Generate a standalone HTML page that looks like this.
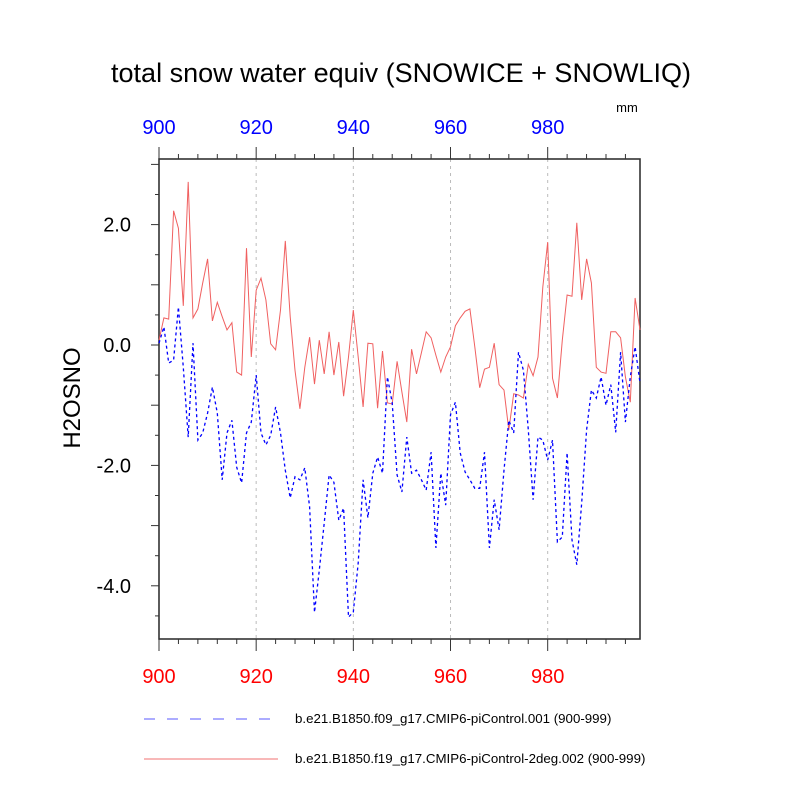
<!DOCTYPE html>
<html><head><meta charset="utf-8"><style>
body{margin:0;background:#fff}
svg{display:block;font-family:"Liberation Sans",sans-serif}
</style></head><body>
<svg id="chart" width="800" height="800" xmlns="http://www.w3.org/2000/svg">
<text x="401" y="82" font-size="27" text-anchor="middle">total snow water equiv (SNOWICE + SNOWLIQ)</text>
<text x="627" y="112" font-size="13" text-anchor="middle">mm</text>
<text transform="translate(80,398) rotate(-90)" font-size="24" text-anchor="middle">H2OSNO</text>
<g id="grid"></g><g id="axes"></g><g id="series"></g>
<g>
<line x1="144" y1="719" x2="276" y2="719" stroke="#5a5aff" stroke-width="1" stroke-dasharray="11,12"/>
<text x="295" y="723" font-size="13.3">b.e21.B1850.f09_g17.CMIP6-piControl.001 (900-999)</text>
<line x1="144" y1="759" x2="278" y2="759" stroke="#f07070" stroke-width="1"/>
<text x="295" y="763" font-size="13.3">b.e21.B1850.f19_g17.CMIP6-piControl-2deg.002 (900-999)</text>
</g>
</svg>
<script>
const years = Array.from({length:100},(_, i)=>900+i);
const redValues = [0.08,0.45,0.43,2.23,1.94,0.65,2.71,0.45,0.60,1.03,1.43,0.40,0.71,0.47,0.25,0.37,-0.45,-0.50,1.61,-0.20,0.91,1.11,0.75,0.02,-0.08,0.58,1.73,0.47,-0.42,-1.06,-0.37,0.13,-0.65,0.08,-0.48,0.22,-0.50,0.05,-0.85,-0.20,0.58,-0.20,-1.03,0.03,0.02,-1.05,-0.10,-0.96,-0.98,-0.27,-0.78,-1.28,-0.07,-0.48,-0.13,0.22,0.12,-0.17,-0.45,-0.20,-0.03,0.32,0.45,0.56,0.60,-0.03,-0.71,-0.40,-0.37,0.03,-0.66,-0.75,-1.41,-0.81,-0.83,-0.88,-0.32,-0.51,-0.20,0.96,1.71,-0.55,-0.88,0.08,0.83,0.81,2.03,0.75,1.43,1.03,-0.37,-0.45,-0.47,0.22,0.22,0.12,-0.53,-0.95,0.78,0.25];
const blueValues = [0.03,0.30,-0.30,-0.25,0.63,-0.37,-1.53,0.03,-1.58,-1.46,-1.13,-0.70,-1.13,-2.24,-1.46,-1.25,-2.03,-2.29,-1.46,-1.28,-0.50,-1.46,-1.66,-1.50,-1.03,-1.46,-2.08,-2.54,-2.19,-2.24,-2.04,-2.69,-4.44,-3.74,-2.96,-2.16,-2.28,-2.91,-2.71,-4.52,-4.44,-3.62,-2.24,-2.87,-2.13,-1.86,-2.13,-0.53,-0.96,-2.16,-2.44,-1.53,-2.13,-2.08,-2.24,-2.41,-1.78,-3.37,-2.13,-2.66,-1.16,-0.95,-1.79,-2.11,-2.24,-2.38,-2.38,-1.78,-3.37,-2.57,-3.07,-2.08,-1.25,-1.46,-0.12,-0.42,-1.41,-2.57,-1.53,-1.58,-1.91,-1.58,-3.27,-3.19,-1.79,-3.24,-3.65,-2.62,-1.41,-0.75,-0.88,-0.53,-1.00,-0.66,-1.45,-0.12,-1.28,-0.53,-0.03,-0.63];
const xTicks = [900,920,940,960,980];
const xTickLabels = ["900","920","940","960","980"];
const yTicks = [2,0,-2,-4];
const yTickLabels = ["2.0","0.0","-2.0","-4.0"];

const L=159,R=640,T=159,B=639;
const xS=v=>L+(v-900)*(R-L)/99;
const yS=v=>345-v*60.2;
const NS="http://www.w3.org/2000/svg";
function mk(tag,attrs,parent,text){const e=document.createElementNS(NS,tag);for(const k in attrs)e.setAttribute(k,attrs[k]);if(text!==undefined)e.textContent=text;parent.appendChild(e);return e;}
const grid=document.getElementById('grid'),axes=document.getElementById('axes'),ser=document.getElementById('series');
xTicks.slice(1).forEach(v=>{const g=mk('line',{x1:xS(v),x2:xS(v),y1:T,y2:B,stroke:'#bbb','stroke-width':1,'stroke-dasharray':'3,4'},grid);

});
const box=mk('rect',{x:L,y:T,width:R-L,height:B-T,fill:'none',stroke:'#333','stroke-width':1.6},axes);


for(let v=900;v<=996;v+=4){const maj=(v-900)%20===0;const x=xS(v);
mk('line',{x1:x,x2:x,y1:T,y2:T-(maj?12:5),stroke:'#333','stroke-width':1},axes);
mk('line',{x1:x,x2:x,y1:B,y2:B+(maj?12:5),stroke:'#333','stroke-width':1},axes);}
for(let v=3;v>=-4.5;v-=0.5){const maj=Math.abs(v%1)<1e-9;const y=yS(v);
mk('line',{x1:L,x2:L-(maj?8:4),y1:y,y2:y,stroke:'#333','stroke-width':1},axes);}
xTicks.forEach((v,i)=>{
const t1=mk('text',{x:xS(v),y:134,'font-size':20,fill:'#0000ff','text-anchor':'middle'},axes,xTickLabels[i]);


const t2=mk('text',{x:xS(v),y:683,'font-size':20,fill:'#ff0000','text-anchor':'middle'},axes,xTickLabels[i]);

});
yTicks.forEach((v,i)=>{const t=mk('text',{x:131,y:yS(v)+7,'font-size':20,'text-anchor':'end'},axes,yTickLabels[i]);

});
const pts=a=>a.map((v,i)=>xS(years[i]).toFixed(1)+','+yS(v).toFixed(1)).join(' ');
const red=mk('polyline',{points:pts(redValues),fill:'none',stroke:'#f06060','stroke-width':1},ser);


const blue=mk('polyline',{points:pts(blueValues),fill:'none',stroke:'#0000ff','stroke-width':1.3,'stroke-dasharray':'3,3'},ser);


</script>
</body></html>
